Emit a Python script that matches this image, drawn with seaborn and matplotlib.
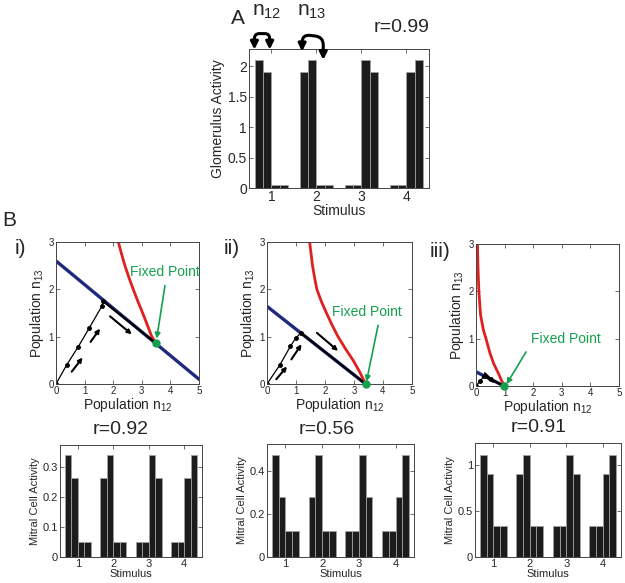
import numpy as np
import pandas as pd
import matplotlib.pyplot as plt
from matplotlib.ticker import FormatStrFormatter
import seaborn as sns

sns.set_style('ticks')
plt.rcParams['font.family'] = ['Liberation Sans', 'DejaVu Sans']
plt.rcParams['mathtext.default'] = 'regular'

# ---- data ----
stimuli = [1, 2, 3, 4]
glomeruli = ['g1', 'g2', 'g3', 'g4']

glom_activity = [[2.1, 1.9, 0.05, 0.05],
                 [1.9, 2.1, 0.05, 0.05],
                 [0.05, 0.05, 2.1, 1.9],
                 [0.05, 0.05, 1.9, 2.1]]
mitral_i = [[0.34, 0.265, 0.05, 0.05],
            [0.265, 0.34, 0.05, 0.05],
            [0.05, 0.05, 0.34, 0.265],
            [0.05, 0.05, 0.265, 0.34]]
mitral_ii = [[0.475, 0.28, 0.12, 0.12],
             [0.28, 0.475, 0.12, 0.12],
             [0.12, 0.12, 0.475, 0.28],
             [0.12, 0.12, 0.28, 0.475]]
mitral_iii = [[1.11, 0.9, 0.34, 0.34],
              [0.9, 1.11, 0.34, 0.34],
              [0.34, 0.34, 1.11, 0.9],
              [0.34, 0.34, 0.9, 1.11]]
r_glom = 'r=0.99'
r_mitral = ['r=0.92', 'r=0.56', 'r=0.91']

# phase planes (n12, n13)
blue_i_x = [0, 5]
blue_i_y = [2.6, 0.1]
red_i_x = [2.18, 2.29, 2.41, 2.55, 2.7, 2.86, 3.03, 3.19, 3.35, 3.5]
red_i_y = [3.0, 2.75, 2.5, 2.25, 2.0, 1.75, 1.5, 1.25, 1.0, 0.86]
traj_i_x = [0, 0.37, 0.78, 1.17, 1.6, 1.65]
traj_i_y = [0, 0.4, 0.79, 1.19, 1.64, 1.75]
fixed_i = (3.5, 0.86)

blue_ii_x = [0, 3.4]
blue_ii_y = [1.64, 0]
red_ii_x = [1.47, 1.52, 1.57, 1.64, 1.72, 1.87, 2.05, 2.24, 2.45, 2.7, 2.97, 3.2, 3.4]
red_ii_y = [3.0, 2.75, 2.5, 2.25, 2.0, 1.75, 1.5, 1.25, 1.0, 0.75, 0.5, 0.25, 0.0]
traj_ii_x = [0, 0.44, 0.81, 0.99, 1.17]
traj_ii_y = [0, 0.4, 0.8, 0.97, 1.08]
fixed_ii = (3.4, 0.0)

blue_iii_x = [0, 0.98]
blue_iii_y = [0.3, 0]
red_iii_x = [0.05, 0.07, 0.1, 0.16, 0.26, 0.35, 0.49, 0.62, 0.78, 0.98]
red_iii_y = [3.0, 2.5, 2.0, 1.5, 1.18, 1.0, 0.69, 0.47, 0.27, 0.0]
traj_iii_x = [0, 0.14, 0.28]
traj_iii_y = [0, 0.1, 0.21]
fixed_iii = (0.98, 0.0)

# little direction arrows: (x0, y0, x1, y1)
arrows_i = [(0.55, 0.26, 0.93, 0.56), (1.21, 0.89, 1.54, 1.17), (1.89, 1.43, 2.65, 1.05)]
arrows_ii = [(0.32, 0.1, 0.69, 0.37), (0.84, 0.52, 1.19, 0.84), (1.72, 1.08, 2.45, 0.7)]
arrows_iii = [(0.31, 0.27, 0.66, 0.06)]
label_pos = [((3.81, 2.36), (3.81, 2.08), (3.52, 0.96)),
             ((3.43, 1.53), (3.83, 1.24), (3.43, 0.05)),
             ((3.15, 1.0), (1.75, 0.72), (1.07, 0.04))]

W, H = 625, 583
BAR = '#1c1c1c'
EDGE = '#a0a0a0'
RED = '#e0201e'
BLUE = '#1f2a7e'
GREEN = '#14a04e'


def frac(x, y):
    return x / W, 1 - y / H


def box(x0, y0, x1, y1):
    return [x0 / W, 1 - y1 / H, (x1 - x0) / W, (y1 - y0) / H]


def style(ax, size):
    ax.tick_params(direction='in', top=True, right=True, length=3, width=0.6,
                   labelsize=size, pad=1.5, color='#555555')
    for s in ax.spines.values():
        s.set_linewidth(0.7)
        s.set_color('#444444')


def bars(ax, values, size):
    df = pd.DataFrame([(s, g, values[i][j]) for i, s in enumerate(stimuli)
                       for j, g in enumerate(glomeruli)],
                      columns=['stimulus', 'glom', 'activity'])
    sns.barplot(data=df, x='stimulus', y='activity', hue='glom',
                palette=[BAR] * 4, width=0.73, gap=0, errorbar=None,
                edgecolor=EDGE, linewidth=0.6, legend=False, ax=ax)
    ax.set_xlim(-0.5, 3.5)
    ax.set_xlabel('Stimulus', fontsize=size, labelpad=0)
    ax.yaxis.set_major_formatter(FormatStrFormatter('%g'))
    style(ax, size)


fig = plt.figure(figsize=(6.25, 5.83), dpi=100)

# ---- panel A ----
axA = fig.add_axes(box(249, 49, 429, 188))
bars(axA, glom_activity, 10)
axA.set_ylim(0, 2.28)
axA.set_yticks([0, 0.5, 1, 1.5, 2])
axA.set_ylabel('Glomerulus Activity', fontsize=10, labelpad=2)
axA.annotate('', xy=(-0.04, 2.27), xytext=(-0.38, 2.27), annotation_clip=False,
             arrowprops=dict(arrowstyle='<|-|>', color='k', lw=2.2, mutation_scale=11,
                             shrinkA=0, shrinkB=0,
                             connectionstyle='arc,angleA=90,angleB=90,armA=16,armB=16,rad=5'))
axA.annotate('', xy=(1.15, 2.1), xytext=(0.68, 2.24), annotation_clip=False,
             arrowprops=dict(arrowstyle='<|-|>', color='k', lw=2.2, mutation_scale=11,
                             shrinkA=0, shrinkB=0,
                             connectionstyle='arc,angleA=90,angleB=90,armA=17,armB=23,rad=8'))
fig.text(*frac(238, 18), 'A', fontsize=15, ha='center', va='center')
fig.text(*frac(267, 11), 'n$_{12}$', fontsize=15, ha='center', va='center')
fig.text(*frac(312, 11), 'n$_{13}$', fontsize=15, ha='center', va='center')
fig.text(*frac(402, 27), r_glom, fontsize=14, ha='center', va='center')

# ---- panel B phase planes ----
phase_boxes = [box(56, 242, 199, 384), box(267, 242, 412, 384), box(476, 244, 619, 386)]
panels = [
    (blue_i_x, blue_i_y, red_i_x, red_i_y, traj_i_x, traj_i_y, fixed_i, arrows_i),
    (blue_ii_x, blue_ii_y, red_ii_x, red_ii_y, traj_ii_x, traj_ii_y, fixed_ii, arrows_ii),
    (blue_iii_x, blue_iii_y, red_iii_x, red_iii_y, traj_iii_x, traj_iii_y, fixed_iii, arrows_iii),
]
for k, (bx, by, rx, ry, tx, ty, fp, arrs) in enumerate(panels):
    ax = fig.add_axes(phase_boxes[k])
    sns.lineplot(x=bx, y=by, color=BLUE, lw=2.4, ax=ax, sort=False, estimator=None)
    sns.lineplot(x=rx, y=ry, color=RED, lw=2.0, ax=ax, sort=False, estimator=None)
    ax.plot(tx, ty, color='k', lw=0.9, marker='o', ms=2.5)
    ax.plot([tx[-1], fp[0]], [ty[-1], fp[1]], color='k', lw=1.6)
    ax.plot([fp[0]], [fp[1]], 'o', color=GREEN, ms=5, clip_on=False, zorder=5)
    for (x0, y0, x1, y1) in arrs:
        ax.annotate('', xy=(x1, y1), xytext=(x0, y0),
                    arrowprops=dict(arrowstyle='-|>', color='k', lw=1.5,
                                    mutation_scale=6, shrinkA=0, shrinkB=0))
    lab, a0, a1 = label_pos[k]
    ax.text(*lab, 'Fixed Point', color=GREEN, fontsize=10, ha='center', va='center')
    ax.annotate('', xy=a1, xytext=a0,
                arrowprops=dict(arrowstyle='-|>', color=GREEN, lw=1.2,
                                mutation_scale=8, shrinkA=0, shrinkB=0))
    ax.set_xlim(0, 5)
    ax.set_ylim(0, 3)
    ax.set_xticks([0, 1, 2, 3, 4, 5])
    ax.set_yticks([0, 1, 2, 3])
    ax.set_xlabel('Population n$_{12}$', fontsize=10, labelpad=0)
    ax.set_ylabel('Population n$_{13}$', fontsize=10, labelpad=2)
    style(ax, 7)

fig.text(*frac(9, 220), 'B', fontsize=15, ha='center', va='center')
fig.text(*frac(20, 249), 'i)', fontsize=15, ha='center', va='center')
fig.text(*frac(232, 249), 'ii)', fontsize=15, ha='center', va='center')
fig.text(*frac(440, 251), 'iii)', fontsize=15, ha='center', va='center')

# ---- panel B mitral cell bars ----
mitral_boxes = [box(60, 445, 202, 557), box(267, 444, 414, 557), box(475, 443, 621, 557)]
mitral_sets = [mitral_i, mitral_ii, mitral_iii]
ylims = [0.375, 0.525, 1.24]
yticks = [[0, 0.1, 0.2, 0.3], [0, 0.2, 0.4], [0, 0.5, 1]]
r_pos = [(121, 429), (327, 429), (539, 428)]
for k in range(3):
    ax = fig.add_axes(mitral_boxes[k])
    bars(ax, mitral_sets[k], 8)
    ax.set_ylim(0, ylims[k])
    ax.set_yticks(yticks[k])
    ax.set_ylabel('Mitral Cell Activity', fontsize=8, labelpad=2)
    fig.text(*frac(*r_pos[k]), r_mitral[k], fontsize=14, ha='center', va='center')

fig.savefig('out.png', dpi=100)
